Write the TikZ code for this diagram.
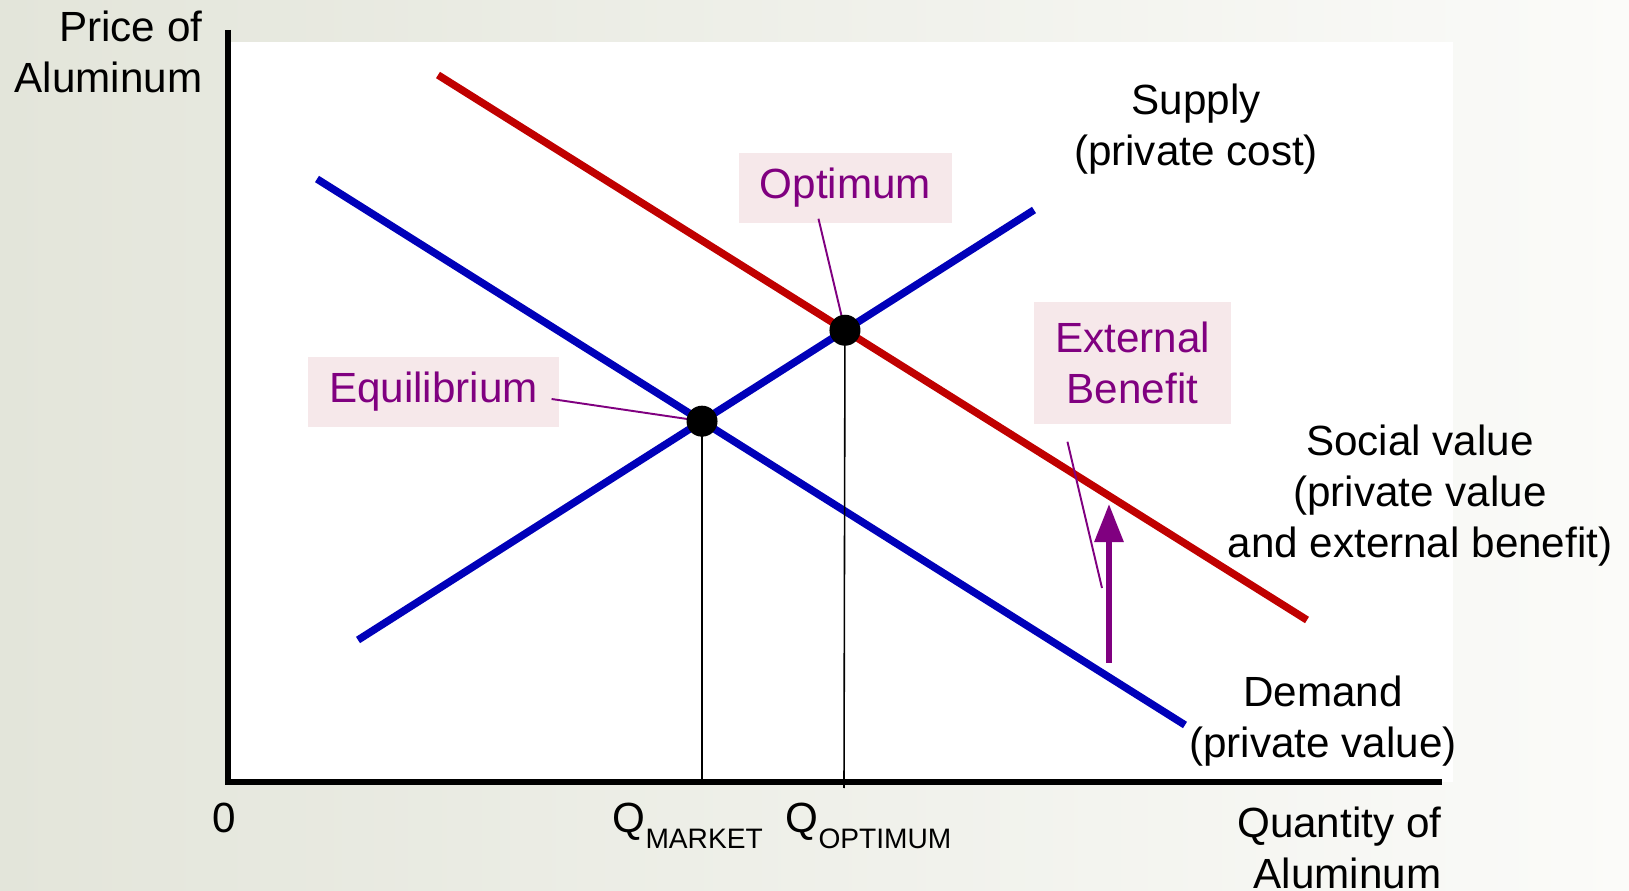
\documentclass[tikz,border=0pt]{standalone}
\usepackage{fontspec}
\setmainfont{Liberation Sans}
\usetikzlibrary{arrows.meta}

\definecolor{socialred}{RGB}{192,0,0}
\definecolor{curveblue}{RGB}{0,0,185}
\definecolor{extpurple}{RGB}{128,0,128}
\definecolor{boxpink}{RGB}{246,232,234}
\definecolor{bgleft}{RGB}{227,229,218}
\definecolor{bgright}{RGB}{251,251,249}

\begin{document}
\begin{tikzpicture}[x=0.01cm,y=-0.01cm,
  font=\fontsize{12}{14.5}\selectfont,
  curve/.style={line width=0.075cm},
  axis/.style={line width=0.055cm},
  dropline/.style={line width=0.45pt},
  leader/.style={draw=extpurple,line width=0.55pt},
  labelbox/.style={fill=boxpink,text=extpurple,inner xsep=0.21cm,inner ysep=0pt,
    minimum height=0.7cm,align=center},
  curvelabel/.style={inner sep=0pt,align=center},
  dot/.style={circle,fill=black,inner sep=0pt,minimum size=0.31cm}]
  \useasboundingbox (0,0) rectangle (1629,891);
  % background and plot area
  \shade[left color=bgleft,right color=bgright] (0,0) rectangle (1629,891);
  \fill[white] (230,42) rectangle (1453,782);

  % end points of the three curves
  \coordinate (sv1) at (438,75);
  \coordinate (sv2) at (1307,620);
  \coordinate (dem1) at (317,179);
  \coordinate (dem2) at (1185,725);
  \coordinate (sup1) at (358,640);
  \coordinate (sup2) at (1034,210);
  \draw[curve,socialred] (sv1) -- (sv2);
  \draw[curve,curveblue] (dem1) -- (dem2);
  \draw[curve,curveblue] (sup1) -- (sup2);

  % axes
  \coordinate (ytop) at (228,30);
  \coordinate (origin) at (228,782);
  \coordinate (xend) at (1442,782);
  \draw[axis] (ytop) -- (origin) -- (xend);

  % equilibrium and optimum
  \coordinate (eqpt) at (intersection of dem1--dem2 and sup1--sup2);
  \coordinate (optpt) at (intersection of sv1--sv2 and sup1--sup2);
  \coordinate (qopt) at (844,788);
  \draw[dropline] (eqpt) -- (eqpt |- origin);
  \draw[dropline] (optpt) -- (qopt);

  % boxed labels
  \node[labelbox] (optbox) at (845.5,188) {Optimum};
  \node[labelbox] (eqbox) at (433.5,392) {Equilibrium};
  \node[labelbox,minimum height=1.22cm] (extbox) at (1132.5,363) {External\\Benefit};
  \coordinate (extend) at (1102,588);
  \draw[leader] ([xshift=-0.27cm,yshift=0.05cm]optbox.south) -- (optpt);
  \draw[leader] ([xshift=-0.08cm,yshift=-0.07cm]eqbox.east) -- (eqpt);
  \draw[leader] ([xshift=-0.65cm,yshift=-0.17cm]extbox.south) -- (extend);

  \node[dot] (eq) at (eqpt) {};
  \node[dot] (opt) at (optpt) {};

  % shift from demand to social value
  \coordinate (arrbot) at (1109,663);
  \coordinate (arrtop) at (1109,504);
  \draw[extpurple,line width=0.06cm,-{Triangle[width=0.28cm,length=0.38cm]}] (arrbot) -- (arrtop);

  % axis and curve labels
  \node[curvelabel,anchor=north east,align=right] (pricelbl) at (203,10) {Price of\\Aluminum};
  \node[curvelabel,anchor=north east,align=right] (qtylbl) at (1442,806) {Quantity of\\Aluminum};
  \node[curvelabel,anchor=base] (zerolbl) at (224,833) {0};
  \node[curvelabel,anchor=base west] (qmlbl) at (612,833)
    {Q\raisebox{-4.5pt}{\fontsize{8}{9}\selectfont MARKET}};
  \node[curvelabel,anchor=base west] (qolbl) at (785,833)
    {Q\raisebox{-4.5pt}{\fontsize{8}{9}\selectfont OPTIMUM}};
  \node[curvelabel,anchor=north] (suplbl) at (1196,83) {Supply\\(private cost)};
  \node[curvelabel,anchor=north] (svlbl) at (1420,424) {Social value\\(private value\\and external benefit)};
  \node[curvelabel,anchor=north] (demlbl) at (1323,675) {Demand\\(private value)};
\end{tikzpicture}
\end{document}
